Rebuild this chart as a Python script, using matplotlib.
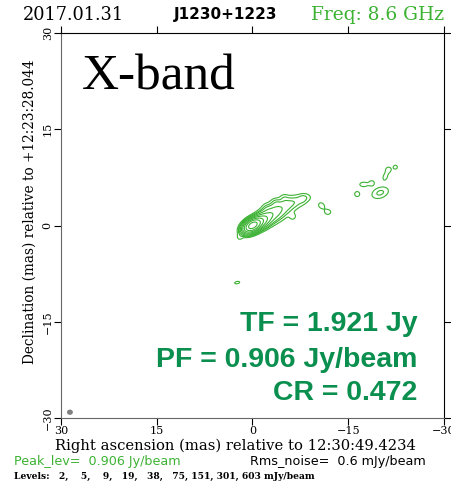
import numpy as np
import matplotlib.pyplot as plt
from matplotlib.patches import Ellipse

# map components: RA offset (mas), Dec offset (mas), peak (mJy/beam), sigma major/minor (mas), angle (deg)
comp_ra = [0.0, -1.2, -2.6, -4.0, -5.5, -7.0, -6.3, -2.2, -8.3, -10.8, -11.8,
           -16.4, -17.4, -18.7, -20.0, -20.8, -21.3, -22.4, 2.4,
           2.0, -7.8, -3.6, -5.0]
comp_dec = [0.0, 0.6, 1.5, 2.4, 3.2, 3.8, 1.4, 2.7, 4.4, 3.1, 2.1,
            4.9, 6.4, 6.6, 5.1, 7.6, 8.7, 9.1, -8.9,
            -1.8, 4.1, 3.6, 4.3]
comp_peak = [880, 120, 30, 14, 8, 5, 3.2, 3.0, 2.8, 3.2, 3.0,
             3.2, 3.2, 3.0, 6.0, 3.0, 3.0, 2.8, 2.6,
             3.0, 3.0, 3.5, 3.0]
comp_smaj = [0.75, 0.9, 1.1, 1.0, 1.0, 1.1, 0.4, 0.5, 0.6, 0.5, 0.5,
             0.4, 0.6, 0.4, 0.9, 0.6, 0.4, 0.35, 0.55,
             0.35, 0.4, 0.45, 0.45]
comp_smin = [0.45, 0.55, 0.7, 0.8, 0.7, 0.6, 0.4, 0.5, 0.4, 0.4, 0.4,
             0.4, 0.35, 0.4, 0.55, 0.35, 0.4, 0.35, 0.25,
             0.35, 0.4, 0.4, 0.4]
comp_pa = [30, 30, 30, 25, 20, 15, 0, 0, 0, -40, 0,
           0, 0, 0, 20, 70, 0, 0, 10,
           0, 0, 0, 0]

levels = [2, 5, 9, 19, 38, 75, 151, 301, 603]
ticks = [-30, -15, 0, 15, 30]
tick_labels = ['\u221230', '\u221215', '0', '15', '30']
beam_ra, beam_dec, beam_w, beam_h = 28.6, -29.1, 0.7, 0.6

green = '#3cb233'
dgreen = '#0a8f4f'

# build the model image
grid = np.linspace(-32, 32, 801)
RA, DEC = np.meshgrid(grid, grid)
img = np.zeros_like(RA)
for ra, dec, pk, a, b, pa in zip(comp_ra, comp_dec, comp_peak, comp_smaj, comp_smin, comp_pa):
    dx = -(RA - ra)
    dy = DEC - dec
    t = np.deg2rad(pa)
    u = dx * np.cos(t) + dy * np.sin(t)
    v = -dx * np.sin(t) + dy * np.cos(t)
    img += pk * np.exp(-0.5 * ((u / a) ** 2 + (v / b) ** 2))

fig = plt.figure(figsize=(4.52, 4.82), dpi=100)
ax = fig.add_axes([61 / 452, 64 / 482, 383 / 452, 385 / 482])
ax.contour(RA, DEC, img, levels=levels, colors=green, linewidths=0.8)
ax.add_patch(Ellipse((beam_ra, beam_dec), beam_w, beam_h, color='gray'))

ax.set_xlim(30, -30)
ax.set_ylim(-30, 30)
ax.set_xticks(ticks)
ax.set_yticks(ticks)
ax.set_xticklabels(tick_labels, family='DejaVu Serif', fontsize=8)
ax.set_yticklabels(tick_labels, family='DejaVu Serif', fontsize=8, rotation=90, va='center')
ax.tick_params(direction='out', length=5, width=0.8, top=True, right=True,
               labeltop=False, labelright=False, pad=1)
ax.spines['left'].set_color('#666666')
ax.spines['bottom'].set_color('#666666')

fig.text(235 / 452, 1 - 446 / 482, 'Right ascension (mas) relative to 12:30:49.4234',
         family='DejaVu Serif', fontsize=10.6, ha='center', va='center')
fig.text(30 / 452, 1 - 212 / 482, 'Declination (mas) relative to +12:23:28.044',
         family='DejaVu Serif', fontsize=9.8, ha='center', va='center', rotation=90)

fig.text(23 / 452, 1 - 15 / 482, '2017.01.31', family='DejaVu Serif', fontsize=12.8, va='center')
fig.text(226 / 452, 1 - 15 / 482, 'J1230+1223', family='DejaVu Sans', fontsize=11,
         weight='bold', ha='center', va='center')
fig.text(444 / 452, 1 - 15 / 482, 'Freq: 8.6 GHz', family='DejaVu Serif', fontsize=13.4,
         color=green, ha='right', va='center')

ax.text(0.055, 0.885, 'X-band', transform=ax.transAxes, family='Liberation Serif',
        fontsize=37, va='center')
for y, s in [(0.244, 'TF = 1.921 Jy'), (0.151, 'PF = 0.906 Jy/beam'), (0.065, 'CR = 0.472')]:
    ax.text(0.93, y, s, transform=ax.transAxes, family='Liberation Sans', weight='bold',
            fontsize=20.5, color=dgreen, ha='right', va='center')

fig.text(14 / 452, 1 - 462 / 482, 'Peak_lev=  0.906 Jy/beam', family='DejaVu Sans',
         fontsize=9.2, color=green, va='center')
fig.text(250 / 452, 1 - 462 / 482, 'Rms_noise=  0.6 mJy/beam', family='DejaVu Sans',
         fontsize=9.2, va='center')
fig.text(14 / 452, 1 - 476 / 482,
         'Levels:   2,    5,    9,   19,   38,   75, 151, 301, 603 mJy/beam',
         family='DejaVu Serif', fontsize=6.6, weight='bold', va='center')

fig.savefig('out.png', dpi=100)
